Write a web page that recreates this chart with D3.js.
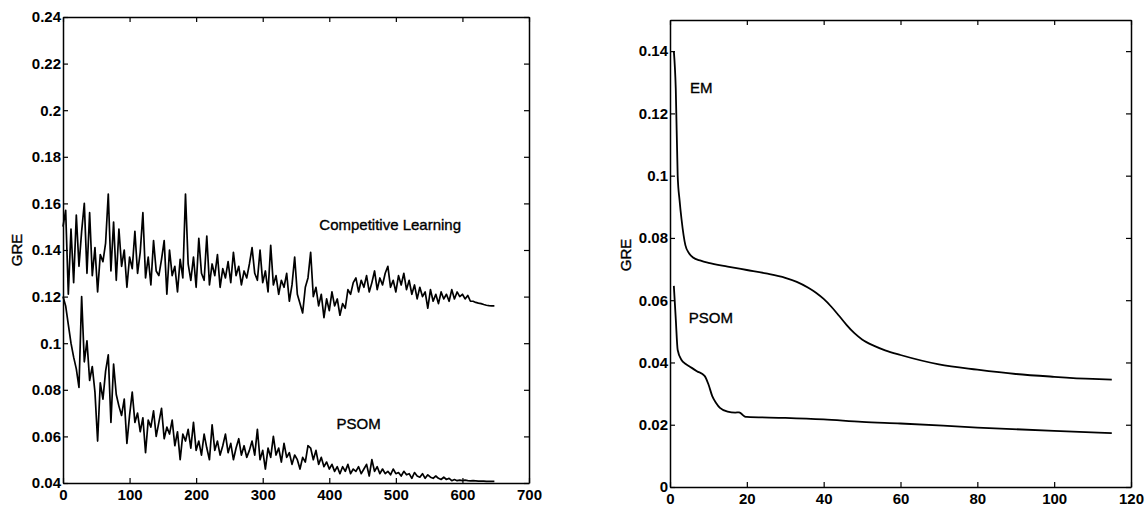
<!DOCTYPE html>
<html>
<head>
<meta charset="utf-8">
<script src="https://cdn.jsdelivr.net/npm/d3@7"></script>
<style>
  body { margin: 0; background: #fff; }
  svg { display: block; }
  text { font-family: "Liberation Sans", Arial, Helvetica, sans-serif; fill: #000; }
</style>
</head>
<body>
<svg id="chart" width="1146" height="512"></svg>
<script>
// Left panel: GRE vs iteration, sampled every 4 iterations
const iterStep = 4;
const competitive = [
  0.150, 0.157, 0.121, 0.149, 0.126, 0.155, 0.133, 0.148, 0.160, 0.130,
  0.156, 0.129, 0.141, 0.122, 0.138, 0.135, 0.143, 0.164, 0.131, 0.152,
  0.127, 0.149, 0.133, 0.140, 0.124, 0.137, 0.132, 0.148, 0.130, 0.139,
  0.156, 0.128, 0.137, 0.125, 0.144, 0.131, 0.129, 0.136, 0.144, 0.121,
  0.140, 0.129, 0.133, 0.122, 0.136, 0.128, 0.164, 0.134, 0.127, 0.137,
  0.124, 0.145, 0.130, 0.127, 0.146, 0.125, 0.134, 0.129, 0.138, 0.124,
  0.132, 0.128, 0.135, 0.126, 0.139, 0.129, 0.133, 0.125, 0.131, 0.128,
  0.134, 0.141, 0.130, 0.127, 0.140, 0.126, 0.131, 0.122, 0.142, 0.125,
  0.129, 0.121, 0.127, 0.124, 0.130, 0.118, 0.125, 0.137, 0.121, 0.117,
  0.113, 0.124, 0.128, 0.139, 0.120, 0.124, 0.116, 0.121, 0.111, 0.119,
  0.114, 0.122, 0.116, 0.119, 0.112, 0.117, 0.115, 0.123, 0.121, 0.126,
  0.128, 0.122, 0.127, 0.124, 0.129, 0.122, 0.126, 0.131, 0.123, 0.128,
  0.125, 0.130, 0.133, 0.124, 0.127, 0.122, 0.129, 0.125, 0.130, 0.123,
  0.127, 0.121, 0.125, 0.119, 0.124, 0.120, 0.122, 0.115, 0.123, 0.118,
  0.121, 0.117, 0.122, 0.119, 0.121, 0.118, 0.123, 0.119, 0.122, 0.120,
  0.121, 0.119, 0.1205, 0.118, 0.118, 0.1175, 0.1172, 0.117, 0.1166, 0.1163,
  0.1161, 0.116, 0.116
];
const psomLeft = [
  0.120, 0.116, 0.108, 0.100, 0.094, 0.089, 0.081, 0.120, 0.092, 0.101,
  0.084, 0.090, 0.079, 0.058, 0.083, 0.076, 0.088, 0.095, 0.066, 0.091,
  0.078, 0.073, 0.069, 0.076, 0.057, 0.069, 0.079, 0.066, 0.070, 0.062,
  0.068, 0.053, 0.067, 0.064, 0.071, 0.060, 0.066, 0.072, 0.059, 0.064,
  0.061, 0.067, 0.056, 0.062, 0.050, 0.061, 0.058, 0.063, 0.055, 0.066,
  0.054, 0.058, 0.052, 0.061, 0.055, 0.050, 0.065, 0.054, 0.058, 0.052,
  0.056, 0.061, 0.053, 0.057, 0.050, 0.055, 0.059, 0.052, 0.056, 0.051,
  0.054, 0.058, 0.052, 0.063, 0.050, 0.054, 0.046, 0.055, 0.051, 0.060,
  0.052, 0.055, 0.049, 0.057, 0.051, 0.053, 0.048, 0.052, 0.050, 0.046,
  0.051, 0.049, 0.056, 0.055, 0.050, 0.054, 0.048, 0.051, 0.047, 0.049,
  0.046, 0.048, 0.045, 0.047, 0.044, 0.047, 0.045, 0.048, 0.044, 0.046,
  0.045, 0.047, 0.044, 0.046, 0.048, 0.043, 0.050, 0.045, 0.047, 0.044,
  0.046, 0.044, 0.045, 0.0435, 0.046, 0.044, 0.0445, 0.043, 0.045, 0.0435,
  0.044, 0.042, 0.0445, 0.043, 0.0425, 0.044, 0.042, 0.0435, 0.0425, 0.042,
  0.043, 0.042, 0.0415, 0.0425, 0.0415, 0.042, 0.041, 0.0415, 0.041, 0.0412,
  0.041, 0.0412, 0.041, 0.0409, 0.041, 0.0409, 0.0408, 0.0408, 0.0408, 0.0407,
  0.0407, 0.0407, 0.0407
];

// Right panel: smooth curves
const emIter = [1, 1.5, 2, 2.5, 3, 4, 5, 6, 8, 10, 15, 20, 25, 30, 33, 36, 38, 40, 42, 44, 46, 48, 50, 53, 56, 60, 70, 80, 90, 100, 110, 115];
const emVals = [0.140, 0.128, 0.100, 0.092, 0.086, 0.0777, 0.075, 0.0737, 0.0727, 0.0720, 0.0708, 0.0697, 0.0686, 0.0672, 0.0659, 0.0640, 0.0624, 0.0604, 0.0579, 0.0550, 0.0520, 0.0494, 0.0474, 0.0454, 0.0439, 0.0424, 0.0394, 0.0377, 0.0363, 0.0354, 0.0347, 0.0345];
const psomIter = [1, 1.5, 2, 3, 4, 5, 7, 9, 10, 11, 12, 13, 15, 17, 18, 18.5, 19.5, 20, 30, 40, 50, 60, 80, 100, 115];
const psomVals = [0.0646, 0.054, 0.0440, 0.0408, 0.0396, 0.0388, 0.0372, 0.0357, 0.0330, 0.0292, 0.0270, 0.0254, 0.0242, 0.0239, 0.0240, 0.0236, 0.0226, 0.0225, 0.0222, 0.0217, 0.0209, 0.0204, 0.0191, 0.0180, 0.0173];

const leftXTicks = [0, 100, 200, 300, 400, 500, 600, 700];
const leftYTicks = [0.04, 0.06, 0.08, 0.1, 0.12, 0.14, 0.16, 0.18, 0.2, 0.22, 0.24];
const rightXTicks = [0, 20, 40, 60, 80, 100, 120];
const rightYTicks = [0, 0.02, 0.04, 0.06, 0.08, 0.1, 0.12, 0.14];

const svg = d3.select("#chart");
const fmt = d => d3.format(".2~f")(d);

function panel(box, xDomain, yDomain, xTicks, yTicks) {
  const x = d3.scaleLinear().domain(xDomain).range([box.left, box.right]);
  const y = d3.scaleLinear().domain(yDomain).range([box.bottom, box.top]);
  const g = svg.append("g");

  const styleAxis = sel => {
    sel.select(".domain").attr("stroke", "#000").attr("stroke-width", 1.5);
    sel.selectAll(".tick line").attr("stroke", "#000").attr("stroke-width", 1.2);
    sel.selectAll("text").attr("font-size", 15).attr("font-weight", "bold")
      .attr("font-family", '"Liberation Sans", Arial, sans-serif');
  };

  g.append("g").attr("transform", `translate(0,${box.bottom})`)
    .call(d3.axisBottom(x).tickValues(xTicks).tickFormat(fmt).tickSizeInner(-5).tickSizeOuter(0).tickPadding(6))
    .call(styleAxis);
  g.append("g").attr("transform", `translate(0,${box.top})`)
    .call(d3.axisTop(x).tickValues(xTicks).tickFormat("").tickSizeInner(-5).tickSizeOuter(0))
    .call(styleAxis);
  g.append("g").attr("transform", `translate(${box.left},0)`)
    .call(d3.axisLeft(y).tickValues(yTicks).tickFormat(fmt).tickSizeInner(-5).tickSizeOuter(0).tickPadding(2))
    .call(styleAxis);
  g.append("g").attr("transform", `translate(${box.right},0)`)
    .call(d3.axisRight(y).tickValues(yTicks).tickFormat("").tickSizeInner(-5).tickSizeOuter(0))
    .call(styleAxis);

  return { x, y, g };
}

function drawLine(p, xs, ys, width, curve) {
  p.g.append("path")
    .datum(ys.map((v, i) => [xs[i], v]))
    .attr("fill", "none")
    .attr("stroke", "#000")
    .attr("stroke-width", width)
    .attr("stroke-linejoin", "round")
    .attr("d", d3.line().x(d => p.x(d[0])).y(d => p.y(d[1])).curve(curve));
}

function label(p, xv, yv, txt) {
  p.g.append("text")
    .attr("x", p.x(xv)).attr("y", p.y(yv))
    .attr("font-size", 15)
    .attr("stroke", "#000").attr("stroke-width", 0.35)
    .text(txt);
}

function yTitle(px, py) {
  svg.append("text")
    .attr("transform", `translate(${px},${py}) rotate(-90)`)
    .attr("text-anchor", "middle")
    .attr("font-size", 15)
    .attr("stroke", "#000").attr("stroke-width", 0.35)
    .text("GRE");
}

// left panel
const L = panel({ left: 63, right: 529, top: 17, bottom: 483 }, [0, 700], [0.04, 0.24], leftXTicks, leftYTicks);
const leftIter = competitive.map((_, i) => i * iterStep);
drawLine(L, leftIter, competitive, 1.7, d3.curveLinear);
drawLine(L, leftIter, psomLeft, 1.7, d3.curveLinear);
label(L, 385, 0.1486, "Competitive Learning");
label(L, 411, 0.0632, "PSOM");
yTitle(22, 250);

// right panel
const R = panel({ left: 670, right: 1131, top: 20, bottom: 487 }, [0, 120], [0, 0.15], rightXTicks, rightYTicks);
drawLine(R, emIter, emVals, 1.8, d3.curveMonotoneX);
drawLine(R, psomIter, psomVals, 1.8, d3.curveMonotoneX);
label(R, 5.2, 0.1266, "EM");
label(R, 4.9, 0.0527, "PSOM");
yTitle(631, 255);
</script>
</body>
</html>
